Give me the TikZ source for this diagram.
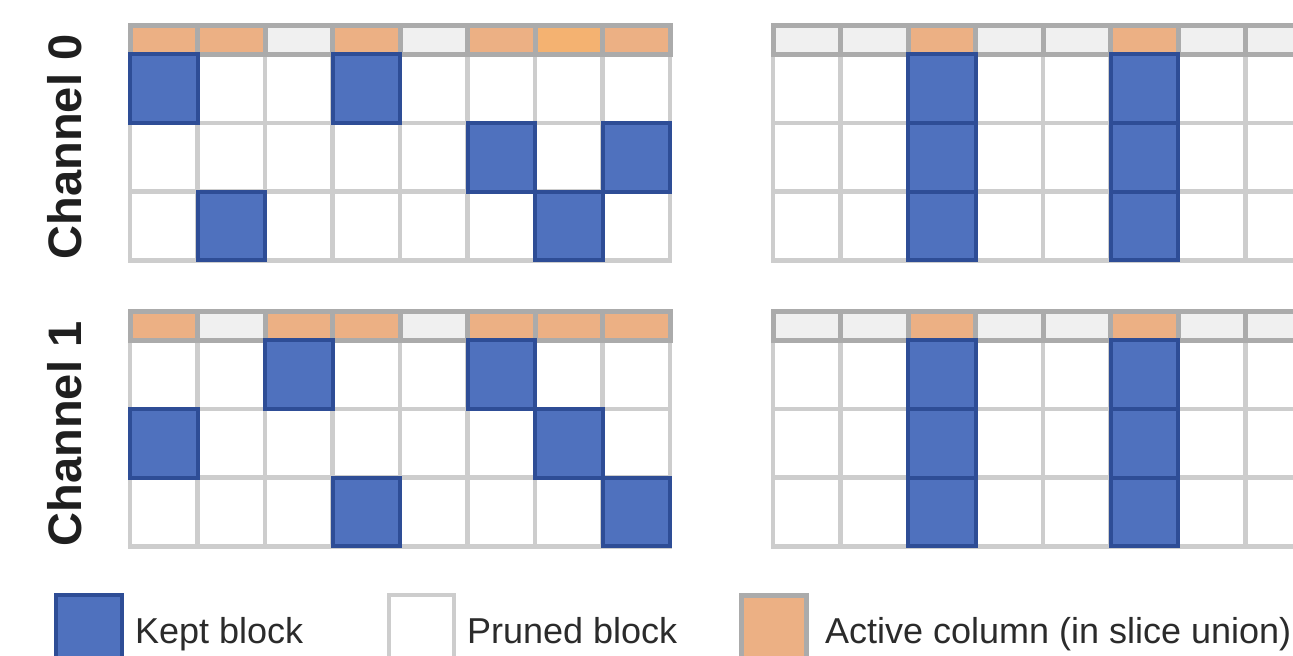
\documentclass[tikz,border=0pt]{standalone}
\usepackage{fontspec}
\setmainfont{Liberation Sans}
\definecolor{keptBlue}{HTML}{4F71BE}
\definecolor{keptEdge}{HTML}{2E4D96}
\definecolor{activeOrange}{HTML}{ECB084}
\definecolor{activeBright}{HTML}{F4B271}
\definecolor{headGray}{HTML}{F0F0F0}
\definecolor{headLine}{HTML}{ABABAB}
\definecolor{gridLine}{HTML}{CDCDCD}
\definecolor{labelInk}{HTML}{2B2B2B}

\begin{document}
\begin{tikzpicture}[x=0.5pt,y=-0.5pt]
  \tikzset{
    cellgrid/.style={draw=gridLine,line width=2.3pt},
    headcell/.style={draw=headLine,line width=2.5pt},
    kept/.style={fill=keptBlue,draw=keptEdge,line width=2pt},
    chlabel/.style={font=\bfseries\fontsize{23.5}{28}\selectfont,rotate=90,anchor=base,text=black!88},
    legtext/.style={font=\fontsize{18}{22}\selectfont,anchor=base west,text=labelInk}
  }
  \useasboundingbox (0,0) rectangle (1293,655);
  \clip (0,0) rectangle (1293,655);

  % channel 0, per-slice blocks
  \begin{scope}[shift={(130,25)}]
    \foreach \c in {0,...,7} \foreach \r in {0,1,2}
      {\draw[cellgrid] (\c*67.5,29+\r*68.8) rectangle ++(67.5,68.8);}
    \foreach \c/\col in {0/activeOrange,1/activeOrange,2/headGray,3/activeOrange,4/headGray,5/activeOrange,6/activeBright,7/activeOrange}
      {\filldraw[headcell,fill=\col] (\c*67.5,0) rectangle ++(67.5,29);}
    \foreach \c/\r in {0/0,3/0,5/1,7/1,1/2,6/2}
      {\filldraw[kept] (\c*67.5,29+\r*68.8) rectangle ++(67.5,68.8);}
  \end{scope}

  % channel 1, per-slice blocks
  \begin{scope}[shift={(130,311)}]
    \foreach \c in {0,...,7} \foreach \r in {0,1,2}
      {\draw[cellgrid] (\c*67.5,29+\r*68.8) rectangle ++(67.5,68.8);}
    \foreach \c/\col in {0/activeOrange,1/headGray,2/activeOrange,3/activeOrange,4/headGray,5/activeOrange,6/activeOrange,7/activeOrange}
      {\filldraw[headcell,fill=\col] (\c*67.5,0) rectangle ++(67.5,29);}
    \foreach \c/\r in {2/0,5/0,0/1,6/1,3/2,7/2}
      {\filldraw[kept] (\c*67.5,29+\r*68.8) rectangle ++(67.5,68.8);}
  \end{scope}

  % channel 0, column blocks
  \begin{scope}[shift={(773,25)}]
    \foreach \c in {0,...,7} \foreach \r in {0,1,2}
      {\draw[cellgrid] (\c*67.5,29+\r*68.8) rectangle ++(67.5,68.8);}
    \foreach \c/\col in {0/headGray,1/headGray,2/activeOrange,3/headGray,4/headGray,5/activeOrange,6/headGray,7/headGray}
      {\filldraw[headcell,fill=\col] (\c*67.5,0) rectangle ++(67.5,29);}
    \foreach \c in {2,5} \foreach \r in {0,1,2}
      {\filldraw[kept] (\c*67.5,29+\r*68.8) rectangle ++(67.5,68.8);}
  \end{scope}

  % channel 1, column blocks
  \begin{scope}[shift={(773,311)}]
    \foreach \c in {0,...,7} \foreach \r in {0,1,2}
      {\draw[cellgrid] (\c*67.5,29+\r*68.8) rectangle ++(67.5,68.8);}
    \foreach \c/\col in {0/headGray,1/headGray,2/activeOrange,3/headGray,4/headGray,5/activeOrange,6/headGray,7/headGray}
      {\filldraw[headcell,fill=\col] (\c*67.5,0) rectangle ++(67.5,29);}
    \foreach \c in {2,5} \foreach \r in {0,1,2}
      {\filldraw[kept] (\c*67.5,29+\r*68.8) rectangle ++(67.5,68.8);}
  \end{scope}

  \node[chlabel] (ch0) at (81,147) {Channel 0};
  \node[chlabel] (ch1) at (81,434) {Channel 1};

  % legend
  \filldraw[kept] (56,595) rectangle (122,662);
  \node[legtext] (keptTxt) at (128,643) {Kept block};
  \filldraw[cellgrid,fill=white] (389,595) rectangle (454,662);
  \node[legtext] (prunedTxt) at (460,643) {Pruned block};
  \filldraw[headcell,fill=activeOrange] (741,595) rectangle (806,662);
  \node[legtext] (activeTxt) at (818,643) {Active column (in slice union)};
\end{tikzpicture}
\end{document}
